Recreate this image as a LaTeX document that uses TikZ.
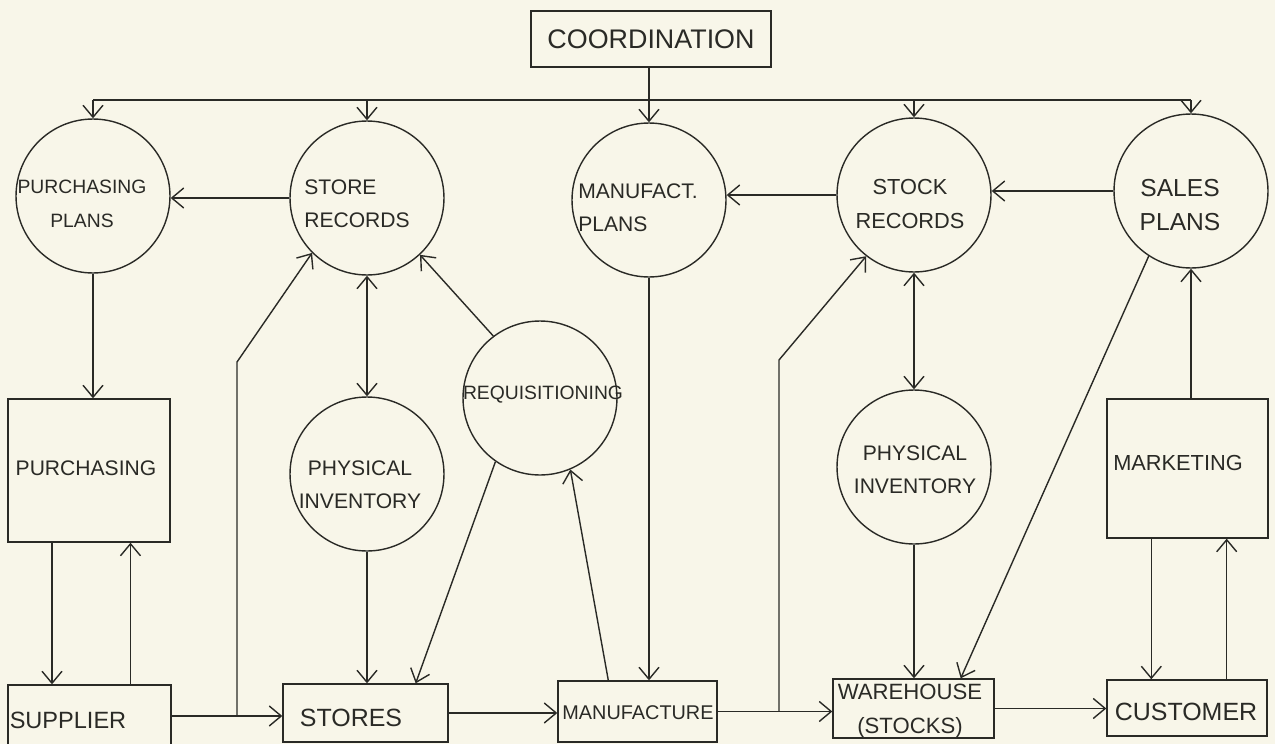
\documentclass[tikz,border=0pt]{standalone}
\usepackage{fontspec}
\setmainfont{Liberation Sans}
\usetikzlibrary{arrows.meta}
\definecolor{paper}{RGB}{248,246,233}
\definecolor{ink}{RGB}{42,42,38}

\begin{document}
\begin{tikzpicture}[x=0.02cm,y=-0.02cm,
  bubble/.style={circle, draw=ink, line width=0.8pt, minimum size=3.08cm, inner sep=0pt},
  blockbox/.style={rectangle, draw=ink, line width=0.8pt, inner sep=0pt, text=ink},
  lbl/.style={text=ink, inner sep=0pt, align=center, font=\fontsize{#1}{19}\selectfont},
  lbl/.default=12,
  plain/.style={draw=ink, line width=0.8pt},
  flow/.style={plain, -{Straight Barb[length=2.4mm,width=4mm]}},
  twoway/.style={plain, {Straight Barb[length=2.4mm,width=4mm]}-{Straight Barb[length=2.4mm,width=4mm]}}]

% page and background
\fill[paper] (0,0) rectangle (1275,744);
\useasboundingbox (0,0) rectangle (1275,744);

% ---------- top ----------
\node[blockbox, minimum width=4.8cm, minimum height=1.12cm, font=\fontsize{15.3}{18}\selectfont]
  (coord) at (651,39) {COORDINATION};

% planning and record circles
\node[bubble] (pplans) at (93,196) {};
\node[bubble] (srec)   at (367,198) {};
\node[bubble] (mplans) at (649,200) {};
\node[bubble] (stkrec) at (914,195) {};
\node[bubble] (splans) at (1191,191) {};

\node[lbl=11] (pplansT) at (82,204) {PURCHASING\\PLANS};
\node[lbl=12, align=left] (srecT) at (357,204) {STORE\\RECORDS};
\node[lbl=12, align=left] (mplansT) at (638,208) {MANUFACT.\\PLANS};
\node[lbl=12.4] (stkrecT) at (910,204) {STOCK\\RECORDS};
\node[lbl=14] (splansT) at (1180,205) {SALES\\PLANS};

% middle circles
\node[bubble] (pinvA) at (367,474) {};
\node[bubble] (req)   at (540,398) {};
\node[bubble] (pinvB) at (914,467) {};

\node[lbl=12] (pinvAT) at (360,485) {PHYSICAL\\INVENTORY};
\node[lbl=11] (reqT) at (543,395) {REQUISITIONING};
\node[lbl=12] (pinvBT) at (915,470) {PHYSICAL\\INVENTORY};

% middle boxes
\node[blockbox, minimum width=3.24cm, minimum height=2.86cm] (purch) at (89,470.5) {};
\node[blockbox, minimum width=3.22cm, minimum height=2.78cm] (mkt) at (1187.5,468.5) {};
\node[lbl=12] (purchT) at (86,468) {PURCHASING};
\node[lbl=12.4] (mktT) at (1178,463) {MARKETING};

% bottom row of boxes
\node[blockbox, minimum width=3.26cm, minimum height=1.24cm] (supp)  at (89.5,716) {};
\node[blockbox, minimum width=3.3cm,  minimum height=1.16cm] (stores) at (365.5,713) {};
\node[blockbox, minimum width=3.18cm, minimum height=1.22cm] (manuf) at (637.5,711.5) {};
\node[blockbox, minimum width=3.22cm, minimum height=1.18cm] (wh)    at (913.5,708.5) {};
\node[blockbox, minimum width=3.2cm,  minimum height=1.12cm] (cust)  at (1187,708) {};

\node[lbl=13.4] (suppT) at (68,720) {SUPPLIER};
\node[lbl=14.2] (storesT) at (351,718) {STORES};
\node[lbl=11.3] (manufT) at (638,713) {MANUFACTURE};
\node[lbl=12.6] (whT) at (910,711) {WAREHOUSE\\(STOCKS)};
\node[lbl=14.2] (custT) at (1186,712) {CUSTOMER};

% ---------- connectors ----------
% coordination bus
\coordinate (busL) at (93,100);
\coordinate (busR) at (1191,100);
\draw[plain] (busL) -- (busR);
\draw[flow] (mplans.north |- coord.south) -- (mplans.north);
\draw[flow] (pplans.north |- busL) -- (pplans.north);
\draw[flow] (srec.north |- busL) -- (srec.north);
\draw[flow] (stkrec.north |- busL) -- (stkrec.north);
\draw[flow] (splans.north |- busL) -- (splans.north);

% flows between the circles of the top row
\draw[flow] (srec.west) -- (srec.west -| pplans.east);
\draw[flow] (stkrec.west) -- (stkrec.west -| mplans.east);
\draw[flow] (splans.west) -- (splans.west -| stkrec.east);

% purchasing side
\draw[flow] (pplans.south) -- (pplans.south |- purch.north);
\draw[flow] ([xshift=-0.74cm]purch.south) -- ([xshift=-0.74cm]purch.south |- supp.north);
\draw[flow] ([xshift=0.82cm]supp.north) -- ([xshift=0.82cm]supp.north |- purch.south);

% supplier to stores, with a branch to the store records
\coordinate (jA) at (237,716);
\coordinate (kA) at (237,362);
\draw[flow] (supp.east) -- (supp.east -| stores.west);
\draw[flow] (jA) -- (kA) -- (srec.225);

% store records and physical inventory
\draw[twoway] (srec.south) -- (pinvA.north);
\draw[flow] (pinvA.south) -- (pinvA.south |- stores.north);

% requisitioning
\draw[flow] (req.127) -- (srec.313);
\draw[flow] (req.235) -- ([xshift=-0.66cm]stores.north east);
\draw[flow] ([xshift=1.02cm]manuf.north west) -- (req.293);

% manufacturing
\draw[flow] (mplans.south) -- (mplans.south |- manuf.north);
\draw[flow] (stores.east) -- (stores.east -| manuf.west);
\coordinate (jB) at (779,711.5);
\coordinate (kB) at (779,360);
\draw[flow] (manuf.east) -- (manuf.east -| wh.west);
\draw[flow] (jB) -- (kB) -- (stkrec.232);

% stock records and physical inventory
\draw[twoway] (stkrec.south) -- (pinvB.north);
\draw[flow] (pinvB.south) -- (pinvB.south |- wh.north);
\draw[flow] (splans.237) -- ([xshift=-0.68cm]wh.north east);

% customer side
\draw[flow] (wh.east) -- (wh.east -| cust.west);
\draw[flow] (splans.south |- mkt.north) -- (splans.south);
\draw[flow] ([xshift=0.9cm]mkt.south west) -- ([xshift=0.9cm]mkt.south west |- cust.north);
\draw[flow] ([xshift=-0.82cm]cust.north east) -- ([xshift=-0.82cm]cust.north east |- mkt.south);
\end{tikzpicture}
\end{document}
